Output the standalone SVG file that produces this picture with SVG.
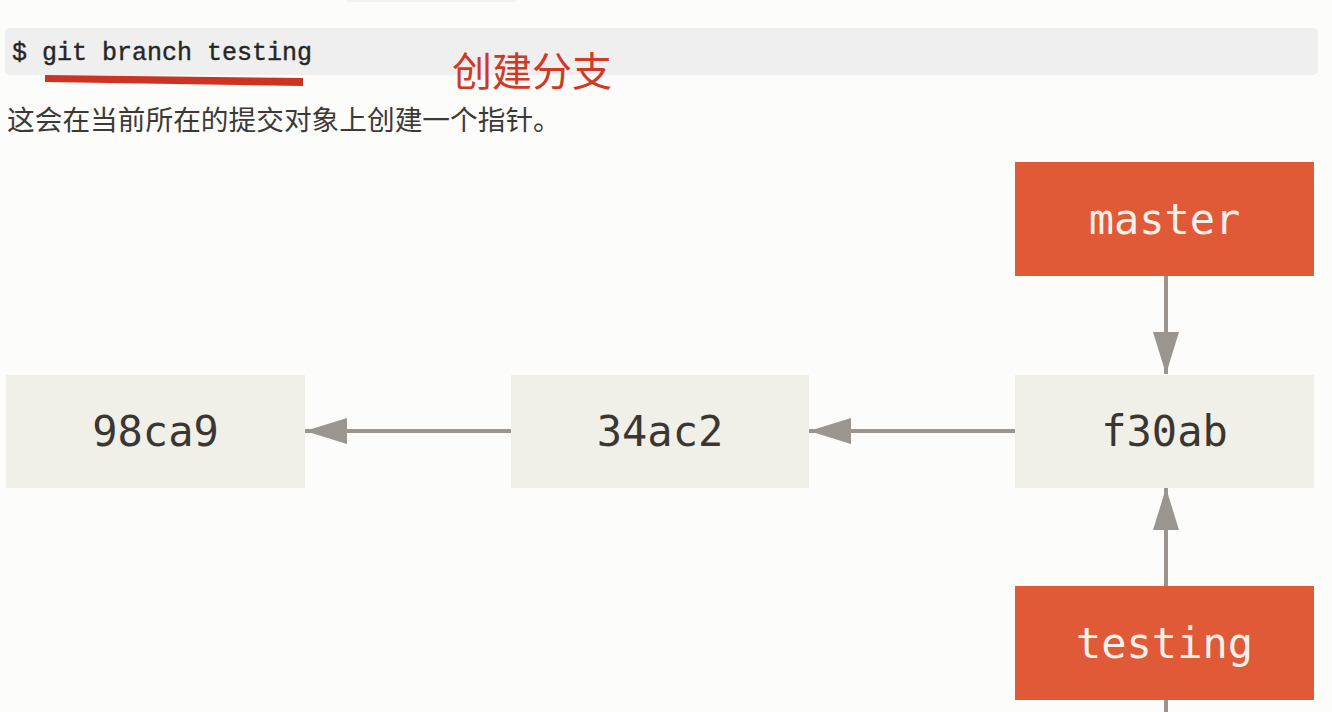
<svg xmlns="http://www.w3.org/2000/svg" width="1332" height="712" viewBox="0 0 1332 712">
<style>
.commit rect{fill:#f0efe8}
.branch rect{fill:#e05a37}
.lbl{font-family:"DejaVu Sans Mono","Liberation Mono",monospace;font-size:42px;text-anchor:middle}
.commit text{fill:#3a3632}
.branch text{fill:#f4f0ea}
.conn{stroke:#9a958e;stroke-width:4;fill:none}
</style>
<defs>
<marker id="ah" markerUnits="userSpaceOnUse" markerWidth="42" markerHeight="26" refX="42" refY="13" orient="auto">
<path d="M0,0 L42,13 L0,26 Z" fill="#9a958e"/>
</marker>
</defs>
<rect width="1332" height="712" fill="#fcfcfa"/>
<rect x="346" y="-6" width="171" height="8" rx="3" fill="#f2f2f0"/>
<g id="code">
<rect x="5" y="28" width="1313" height="47" rx="5" fill="#efefef"/>
<text x="12" y="60" font-family="'Liberation Mono','Courier New',monospace" font-size="25" fill="#262626" stroke="#262626" stroke-width="0.4">$ git branch testing</text>
</g>
<polygon points="45,75 303,78 303,86 45,82" fill="#cc3322"/>
<text x="452" y="86" font-family="'Noto Sans CJK SC',sans-serif" font-size="40" fill="#cf3a26">创建分支</text>
<text x="7" y="130" font-family="'Noto Sans CJK SC',sans-serif" font-size="27.7" fill="#3d3a36">这会在当前所在的提交对象上创建一个指针。</text>
<g id="connectors">
<line class="conn" x1="1166" y1="276" x2="1166" y2="374" marker-end="url(#ah)"/>
<line class="conn" x1="1166" y1="586" x2="1166" y2="488" marker-end="url(#ah)"/>
<line class="conn" x1="1015" y1="431" x2="809" y2="431" marker-end="url(#ah)"/>
<line class="conn" x1="511" y1="431" x2="305" y2="431" marker-end="url(#ah)"/>
<line class="conn" x1="1166" y1="700" x2="1166" y2="712"/>
</g>
<g id="c98ca9" class="commit"><rect x="6" y="375" width="299" height="113"/><text class="lbl" x="155.5" y="446">98ca9</text></g>
<g id="c34ac2" class="commit"><rect x="511" y="375" width="298" height="113"/><text class="lbl" x="660" y="446">34ac2</text></g>
<g id="cf30ab" class="commit"><rect x="1015" y="375" width="299" height="113"/><text class="lbl" x="1164.5" y="446">f30ab</text></g>
<g id="master" class="branch"><rect x="1015" y="162" width="299" height="114"/><text class="lbl" x="1164.5" y="234">master</text></g>
<g id="testing" class="branch"><rect x="1015" y="586" width="299" height="114"/><text class="lbl" x="1164.5" y="658">testing</text></g>
</svg>
